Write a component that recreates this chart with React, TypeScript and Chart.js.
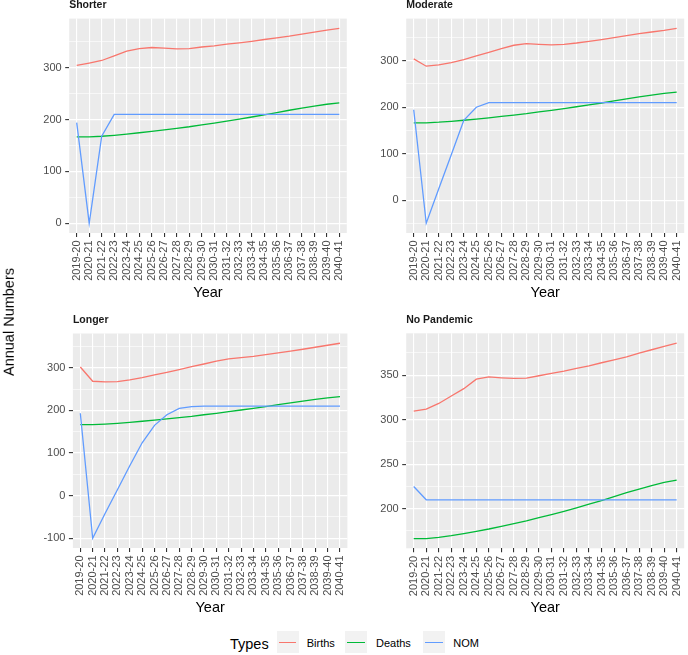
import React, { useEffect, useRef } from 'react';
import { Chart, registerables } from 'chart.js';

Chart.register(...registerables);

const FONT = "'Liberation Sans', Arial, sans-serif";

const years = [
  '2019-20', '2020-21', '2021-22', '2022-23', '2023-24', '2024-25', '2025-26', '2026-27',
  '2027-28', '2028-29', '2029-30', '2030-31', '2031-32', '2032-33', '2033-34', '2034-35',
  '2035-36', '2036-37', '2037-38', '2038-39', '2039-40', '2040-41',
];

const deaths = [166.5, 166.5, 167.8, 169.7, 172, 174.6, 177.2, 180.2, 183.2, 186.2, 189.9, 193.3, 197, 201, 205, 209, 213.5, 218, 222, 226, 229.6, 232.2];

const shorterBirths = [304.5, 309, 314, 323, 332, 337, 339, 338, 336.5, 337, 340, 342, 345.5, 348, 351, 354.5, 357.7, 361, 365, 368.6, 372.4, 376];
const shorterNOM = [194, 0, 168, 210, 210, 210, 210, 210, 210, 210, 210, 210, 210, 210, 210, 210, 210, 210, 210, 210, 210, 210];

const moderateBirths = [303.6, 288, 290.8, 295.8, 302.2, 310, 317.9, 325.7, 332.9, 336.4, 335, 333.6, 335, 337.8, 341.4, 345, 349.2, 353.5, 357.8, 361.4, 364.9, 369.2];
const moderateNOM = [194.6, -49, 25, 98, 172, 200, 210, 210, 210, 210, 210, 210, 210, 210, 210, 210, 210, 210, 210, 210, 210, 210];

const longerBirths = [302, 268.5, 267, 267.7, 271.6, 277, 283.4, 289.6, 296, 303, 309, 315.5, 321, 324, 327, 331, 335, 339, 343.6, 348.3, 353, 357.7];
const longerNOM = [193.3, -100, -42, 14, 70, 124, 165, 190, 205, 209, 210, 210, 210, 210, 210, 210, 210, 210, 210, 210, 210, 210];

const noPandemicBirths = [309.6, 311.9, 318.2, 326.5, 334.8, 345.5, 348, 347, 346.3, 346.6, 349.3, 352, 354.5, 357.5, 360.5, 363.9, 367.2, 370.6, 374.7, 378.5, 382.2, 386];
const noPandemicNOM = [225, 210, 210, 210, 210, 210, 210, 210, 210, 210, 210, 210, 210, 210, 210, 210, 210, 210, 210, 210, 210, 210];

const shorterTicks = [0, 100, 200, 300];
const moderateTicks = [0, 100, 200, 300];
const longerTicks = [-100, 0, 100, 200, 300];
const noPandemicTicks = [200, 250, 300, 350];

const seriesNames = ['Births', 'Deaths', 'NOM'];
const seriesColors = ['#F8766D', '#00BA38', '#619CFF'];

const panelDeco = {
  id: 'panelDeco',
  beforeDraw(chart: any) {
    const { ctx, chartArea: a } = chart;
    ctx.save();
    ctx.fillStyle = '#EBEBEB';
    ctx.fillRect(a.left, a.top, a.right - a.left, a.bottom - a.top);
    ctx.restore();
  },
  afterDraw(chart: any, _args: any, opts: any) {
    const { ctx, chartArea: a } = chart;
    ctx.save();
    ctx.fillStyle = '#1A1A1A';
    ctx.font = `bold 10.5px ${FONT}`;
    ctx.textAlign = 'left';
    ctx.textBaseline = 'middle';
    ctx.fillText(opts.title, a.left, a.top - 13.3);
    ctx.fillStyle = '#000000';
    ctx.font = `14.5px ${FONT}`;
    ctx.textAlign = 'center';
    ctx.fillText('Year', (a.left + a.right) / 2, a.bottom + 60);
    ctx.restore();
  },
};

type Box = { left: number; top: number; w: number; h: number; padTop: number; padRight: number; yw: number; xh: number };

function Panel(props: { title: string; births: number[]; deathsData: number[]; nom: number[]; majorTicks: number[]; box: Box }) {
  const { title, births, deathsData, nom, majorTicks, box } = props;
  const ref = useRef<HTMLCanvasElement>(null);

  useEffect(() => {
    if (!ref.current) return;
    const all = [...births, ...deathsData, ...nom];
    const lo = Math.min(...all);
    const hi = Math.max(...all);
    const pad = (hi - lo) * 0.05;
    const ymin = lo - pad;
    const ymax = hi + pad;
    const step = majorTicks[1] - majorTicks[0];
    const isMajor = (v: number) => {
      const r = (v - majorTicks[0]) / step;
      return Math.abs(r - Math.round(r)) < 1e-6;
    };
    const tickVals: number[] = [];
    for (let k = -2; k <= (majorTicks.length + 1) * 2; k++) {
      const v = majorTicks[0] + (k * step) / 2;
      if (v >= ymin && v <= ymax) tickVals.push(v);
    }
    const toPts = (arr: number[]) => years.map((_, i) => ({ x: i, y: arr[i] }));
    const seriesData = [births, deathsData, nom];

    const chart = new Chart(ref.current, {
      type: 'line',
      data: {
        datasets: seriesNames.map((name, si) => ({
          label: name,
          data: toPts(seriesData[si]),
          borderColor: seriesColors[si],
          backgroundColor: seriesColors[si],
          borderWidth: 1.3,
          pointRadius: 0,
          tension: 0,
          fill: false,
          order: 3 - si,
        })),
      },
      options: {
        responsive: false,
        animation: false,
        devicePixelRatio: 1,
        layout: { padding: { left: 0, top: box.padTop, right: box.padRight, bottom: 0 } },
        plugins: {
          legend: { display: false },
          tooltip: { enabled: false },
          panelDeco: { title },
        } as any,
        scales: {
          x: {
            type: 'linear',
            bounds: 'data',
            min: -0.6,
            max: years.length - 1 + 0.6,
            afterBuildTicks: (s: any) => {
              s.ticks = years.map((_, i) => ({ value: i }));
            },
            afterFit: (s: any) => {
              s.height = box.xh;
              s.paddingLeft = 0;
              s.paddingRight = 0;
            },
            ticks: {
              autoSkip: false,
              minRotation: 90,
              maxRotation: 90,
              padding: 3.5,
              color: '#4D4D4D',
              font: { size: 11, family: FONT },
              callback: (v: any) => years[v as number] ?? '',
            },
            grid: {
              color: '#FFFFFF',
              lineWidth: 1.1,
              tickColor: '#333333',
              tickLength: 4,
              tickWidth: 1.1,
            },
            border: { display: false },
          } as any,
          y: {
            type: 'linear',
            bounds: 'data',
            min: ymin,
            max: ymax,
            afterBuildTicks: (s: any) => {
              s.ticks = tickVals.map((v) => ({ value: v }));
            },
            afterFit: (s: any) => {
              s.width = box.yw;
              s.paddingTop = 0;
              s.paddingBottom = 0;
            },
            ticks: {
              autoSkip: false,
              padding: 3.5,
              color: '#4D4D4D',
              font: { size: 11, family: FONT },
              callback: (v: any) => (isMajor(v as number) ? String(Math.round(v as number)) : ''),
            },
            grid: {
              color: '#FFFFFF',
              lineWidth: (c: any) => (c.tick && isMajor(c.tick.value) ? 1.2 : 0.6),
              tickColor: (c: any) => (c.tick && isMajor(c.tick.value) ? '#333333' : 'rgba(0,0,0,0)'),
              tickLength: 4,
              tickWidth: 1.1,
            },
            border: { display: false },
          } as any,
        },
      },
      plugins: [panelDeco as any],
    });
    return () => chart.destroy();
  }, []);

  return (
    <canvas
      ref={ref}
      width={box.w}
      height={box.h}
      style={{ position: 'absolute', left: box.left, top: box.top, width: box.w, height: box.h }}
    />
  );
}

export default function App() {
  const legendItems = [
    { x: 276.7, tx: 306.7 },
    { x: 345, tx: 376 },
    { x: 423.3, tx: 453.3 },
  ];
  return (
    <div style={{ position: 'absolute', left: 0, top: 0, width: 688, height: 655, background: '#FFFFFF', fontFamily: FONT, overflow: 'hidden' }}>
      <Panel title="Shorter" births={shorterBirths} deathsData={deaths} nom={shorterNOM} majorTicks={shorterTicks}
        box={{ left: 0, top: 0, w: 352, h: 305, padTop: 18.6, padRight: 5.2, yw: 69.2, xh: 72 }} />
      <Panel title="Moderate" births={moderateBirths} deathsData={deaths} nom={moderateNOM} majorTicks={moderateTicks}
        box={{ left: 352, top: 0, w: 336, h: 305, padTop: 18.6, padRight: 3.8, yw: 54.2, xh: 72 }} />
      <Panel title="Longer" births={longerBirths} deathsData={deaths} nom={longerNOM} majorTicks={longerTicks}
        box={{ left: 0, top: 315, w: 352, h: 305, padTop: 18.5, padRight: 4.6, yw: 72.9, xh: 72 }} />
      <Panel title="No Pandemic" births={noPandemicBirths} deathsData={deaths} nom={noPandemicNOM} majorTicks={noPandemicTicks}
        box={{ left: 352, top: 315, w: 336, h: 305, padTop: 18.3, padRight: 3.8, yw: 54.2, xh: 71.7 }} />

      <div style={{ position: 'absolute', left: 9, top: 322, transform: 'translate(-50%, -50%) rotate(-90deg)', whiteSpace: 'nowrap', fontSize: 14.5, lineHeight: 1, color: '#000' }}>
        Annual Numbers
      </div>

      <div style={{ position: 'absolute', left: 230, top: 643.5, transform: 'translateY(-50%)', fontSize: 14.5, lineHeight: 1, color: '#000', whiteSpace: 'nowrap' }}>
        Types
      </div>
      {seriesNames.map((name, i) => (
        <React.Fragment key={name}>
          <div style={{ position: 'absolute', left: legendItems[i].x, top: 631.3, width: 22, height: 22, background: '#F2F2F2' }}>
            <div style={{ position: 'absolute', left: 2.2, top: 10.35, width: 17.6, height: 1.3, background: seriesColors[i] }} />
          </div>
          <div style={{ position: 'absolute', left: legendItems[i].tx, top: 642.5, transform: 'translateY(-50%)', fontSize: 11, lineHeight: 1, color: '#000', whiteSpace: 'nowrap' }}>
            {name}
          </div>
        </React.Fragment>
      ))}
    </div>
  );
}
